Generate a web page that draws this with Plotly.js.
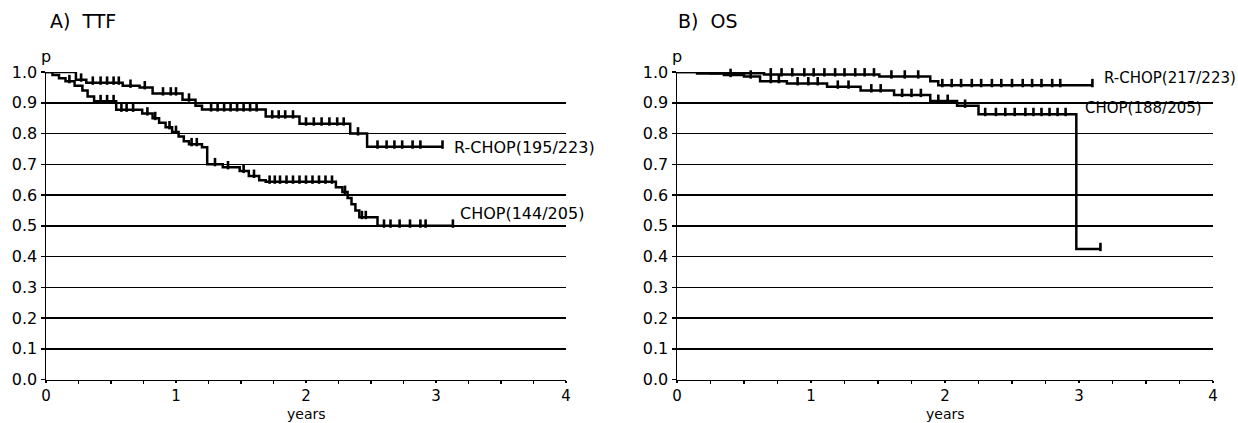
<!DOCTYPE html>
<html>
<head>
<meta charset="utf-8">
<script src="https://cdn.plot.ly/plotly-3.0.1.min.js"></script>
<style>html,body{margin:0;padding:0;background:#fff;}#chart{width:1238px;height:423px;}</style>
</head>
<body>
<div id="chart"></div>
<script>
// ---- Data (Kaplan–Meier steps: time in years, survival p) ----
var ttfRchopT = [0, 0.23, 0.31, 0.59, 0.72, 0.82, 1.05, 1.15, 1.20, 1.69, 1.95, 2.34, 2.47, 3.05];
var ttfRchopP = [1.0, 0.975, 0.965, 0.955, 0.95, 0.93, 0.91, 0.89, 0.878, 0.855, 0.832, 0.80, 0.757, 0.757];
var ttfRchopCens = [0.12, 0.27, 0.36, 0.42, 0.47, 0.52, 0.56, 0.65, 0.76, 0.9, 0.96, 1.0, 1.1, 1.27, 1.32, 1.37, 1.42, 1.47, 1.52, 1.57, 1.62, 1.74, 1.79, 1.84, 1.9, 2.0, 2.06, 2.12, 2.18, 2.24, 2.29, 2.4, 2.55, 2.62, 2.68, 2.74, 2.82, 2.88, 3.05];

var ttfChopT = [0, 0.05, 0.10, 0.15, 0.22, 0.28, 0.32, 0.37, 0.54, 0.74, 0.82, 0.87, 0.92, 0.97, 1.02, 1.06, 1.10, 1.20, 1.24, 1.36, 1.49, 1.56, 1.64, 1.69, 2.23, 2.28, 2.32, 2.35, 2.38, 2.41, 2.55, 3.13];
var ttfChopP = [1.0, 0.99, 0.98, 0.97, 0.955, 0.94, 0.92, 0.905, 0.877, 0.865, 0.85, 0.835, 0.82, 0.805, 0.79, 0.775, 0.765, 0.755, 0.70, 0.69, 0.678, 0.662, 0.648, 0.643, 0.625, 0.61, 0.59, 0.57, 0.55, 0.528, 0.50, 0.50];
var ttfChopCens = [0.18, 0.42, 0.47, 0.52, 0.58, 0.62, 0.67, 0.78, 0.84, 0.95, 1.0, 1.12, 1.16, 1.3, 1.4, 1.52, 1.6, 1.72, 1.76, 1.8, 1.85, 1.9, 1.95, 2.0, 2.05, 2.1, 2.15, 2.2, 2.3, 2.43, 2.46, 2.6, 2.65, 2.72, 2.8, 2.88, 2.92, 3.13];

var osRchopT = [0, 0.25, 0.65, 1.51, 1.89, 1.95, 3.10];
var osRchopP = [1.0, 0.996, 0.992, 0.985, 0.97, 0.957, 0.957];
var osRchopCens = [0.1, 0.2, 0.3, 0.38, 0.45, 0.52, 0.7, 0.78, 0.86, 0.95, 1.02, 1.1, 1.18, 1.25, 1.33, 1.4, 1.47, 1.6, 1.7, 1.8, 1.98, 2.05, 2.12, 2.2, 2.27, 2.35, 2.42, 2.5, 2.58, 2.65, 2.72, 2.8, 2.86, 3.1];

var osChopT = [0, 0.15, 0.35, 0.50, 0.62, 0.82, 1.12, 1.37, 1.62, 1.89, 2.09, 2.25, 2.98, 3.16];
var osChopP = [1.0, 0.995, 0.99, 0.985, 0.97, 0.963, 0.952, 0.94, 0.925, 0.906, 0.89, 0.863, 0.424, 0.424];
var osChopCens = [0.08, 0.22, 0.4, 0.55, 0.7, 0.76, 0.9, 0.98, 1.05, 1.2, 1.28, 1.45, 1.52, 1.68, 1.75, 1.82, 1.95, 2.02, 2.15, 2.3, 2.38, 2.45, 2.52, 2.6, 2.66, 2.72, 2.78, 2.84, 2.9, 3.16];

var xTickVals = [0, 1, 2, 3, 4];
var xTickText = ['0', '1', '2', '3', '4'];
var yTickVals = [0, 0.1, 0.2, 0.3, 0.4, 0.5, 0.6, 0.7, 0.8, 0.9, 1.0];
var yTickText = ['0.0', '0.1', '0.2', '0.3', '0.4', '0.5', '0.6', '0.7', '0.8', '0.9', '1.0'];

var panelTitles = ['A)  TTF', 'B)  OS'];
var seriesLabels = ['R-CHOP(195/223)', 'CHOP(144/205)', 'R-CHOP(217/223)', 'CHOP(188/205)'];
var yLabel = 'p';
var xLabel = 'years';

// ---- helpers ----
var W = 1238, H = 423;
function px(x) { return x / W; }
function py(y) { return (H - y) / H; }
function stepAt(ts, ps, t) {
  var v = ps[0];
  for (var i = 0; i < ts.length; i++) { if (ts[i] <= t) v = ps[i]; }
  return v;
}
function curve(ts, ps, xa, ya) {
  return { x: ts, y: ps, xaxis: xa, yaxis: ya, mode: 'lines', type: 'scatter',
    line: { shape: 'hv', color: '#000', width: 2.5 }, cliponaxis: false, hoverinfo: 'skip', showlegend: false };
}
function cens(cs, ts, ps, xa, ya) {
  return { x: cs, y: cs.map(function (c) { return stepAt(ts, ps, c) + 0.007; }), xaxis: xa, yaxis: ya,
    mode: 'markers', type: 'scatter', cliponaxis: false, hoverinfo: 'skip', showlegend: false,
    marker: { symbol: 'line-ns', size: 6, color: '#000', line: { color: '#000', width: 2.6 } } };
}

var data = [
  curve(ttfRchopT, ttfRchopP, 'x', 'y'),
  curve(ttfChopT, ttfChopP, 'x', 'y'),
  cens(ttfRchopCens, ttfRchopT, ttfRchopP, 'x', 'y'),
  cens(ttfChopCens, ttfChopT, ttfChopP, 'x', 'y'),
  curve(osRchopT, osRchopP, 'x2', 'y2'),
  curve(osChopT, osChopP, 'x2', 'y2'),
  cens(osRchopCens, osRchopT, osRchopP, 'x2', 'y2'),
  cens(osChopCens, osChopT, osChopP, 'x2', 'y2')
];

var tickFont = { family: 'DejaVu Sans, Arial, sans-serif', size: 16, color: '#000' };
var xTickFont = { family: 'DejaVu Sans, Arial, sans-serif', size: 15, color: '#000' };
function xAxis(dom, anchor) {
  return { domain: dom, anchor: anchor, range: [0, 4], tickvals: xTickVals, ticktext: xTickText,
    showline: true, linecolor: '#000', linewidth: 1.5, ticks: 'outside', ticklen: 2, tickwidth: 1.5, tickcolor: '#000',
    minor: { tickvals: [0.25, 0.5, 0.75, 1.25, 1.5, 1.75, 2.25, 2.5, 2.75, 3.25, 3.5, 3.75], ticks: 'outside', ticklen: 3, tickwidth: 1.2, tickcolor: '#000', showgrid: false },
    showgrid: false, zeroline: false, tickfont: xTickFont, fixedrange: true };
}
function yAxis(anchor) {
  return { domain: [py(379.5), py(72)], anchor: anchor, range: [0, 1], tickvals: yTickVals, ticktext: yTickText,
    showline: true, linecolor: '#000', linewidth: 1.5, ticks: 'outside', ticklen: 4, tickwidth: 1.5, tickcolor: '#000',
    showgrid: true, gridcolor: '#000', gridwidth: 1.5, zeroline: false, tickfont: tickFont, fixedrange: true };
}

var annFont = { family: 'DejaVu Sans, Arial, sans-serif', size: 16, color: '#000' };
var yearsFont = { family: 'DejaVu Sans, Arial, sans-serif', size: 14, color: '#000' };
var titleFont = { family: 'DejaVu Sans, Arial, sans-serif', size: 19, color: '#000' };
function ann(text, x, y, xref, yref, xanchor, font) {
  return { text: text, x: x, y: y, xref: xref, yref: yref, xanchor: xanchor, yanchor: 'middle', showarrow: false, font: font };
}

var layout = {
  width: W, height: H, margin: { l: 0, r: 0, t: 0, b: 0 },
  paper_bgcolor: '#fff', plot_bgcolor: '#fff', showlegend: false,
  xaxis: xAxis([px(46), px(566)], 'y'),
  yaxis: yAxis('x'),
  xaxis2: xAxis([px(677), px(1213)], 'y2'),
  yaxis2: yAxis('x2'),
  annotations: [
    ann(panelTitles[0], px(48), py(21), 'paper', 'paper', 'left', titleFont),
    ann(panelTitles[1], px(676), py(21), 'paper', 'paper', 'left', titleFont),
    ann(yLabel, px(46), py(57), 'paper', 'paper', 'center', annFont),
    ann(yLabel, px(677), py(57), 'paper', 'paper', 'center', annFont),
    { text: xLabel, x: 2, y: 0, xref: 'x', yref: 'paper', xanchor: 'center', yanchor: 'bottom', yshift: 0, borderpad: 0, showarrow: false, font: yearsFont },
    { text: xLabel, x: 2, y: 0, xref: 'x2', yref: 'paper', xanchor: 'center', yanchor: 'bottom', yshift: 0, borderpad: 0, showarrow: false, font: yearsFont },
    ann(seriesLabels[0], 3.12, 0.756, 'x', 'y', 'left', annFont),
    ann(seriesLabels[1], 3.17, 0.541, 'x', 'y', 'left', annFont),
    ann(seriesLabels[2], 3.17, 0.98, 'x2', 'y2', 'left', { family: 'DejaVu Sans, Arial, sans-serif', size: 15, color: '#000' }),
    ann(seriesLabels[3], 3.03, 0.883, 'x2', 'y2', 'left', { family: 'DejaVu Sans, Arial, sans-serif', size: 15, color: '#000' })
  ]
};

Plotly.newPlot('chart', data, layout, { staticPlot: true, displayModeBar: false });
</script>
</body>
</html>
